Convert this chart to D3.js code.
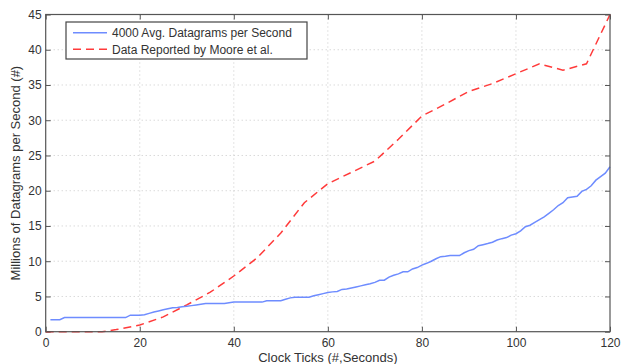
<!DOCTYPE html>
<html>
<head>
<meta charset="utf-8">
<script src="https://cdn.jsdelivr.net/npm/d3@7"></script>
<style>
  body { margin: 0; background: #fff; }
  svg { display: block; font-family: 'Liberation Sans', Arial, sans-serif; }
</style>
</head>
<body>
<svg id="chart" width="621" height="364"></svg>
<script>
// blue series: one sample per clock tick, 1..120
const avgTicks = d3.range(1, 121)
const avgValues = [
  1.7, 1.7, 1.7, 2.0, 2.0, 2.0, 2.0, 2.0, 2.0, 2.0,
  2.0, 2.0, 2.0, 2.0, 2.0, 2.0, 2.0, 2.35, 2.35, 2.35,
  2.4, 2.6, 2.8, 2.95, 3.1, 3.25, 3.4, 3.45, 3.55, 3.6,
  3.7, 3.8, 3.9, 4.0, 4.0, 4.0, 4.0, 4.0, 4.1, 4.2,
  4.2, 4.2, 4.2, 4.2, 4.2, 4.2, 4.4, 4.4, 4.4, 4.4,
  4.6, 4.8, 4.87, 4.87, 4.87, 4.9, 5.1, 5.25, 5.4, 5.55,
  5.65, 5.7, 6.0, 6.05, 6.2, 6.35, 6.5, 6.65, 6.8, 7.0,
  7.3, 7.3, 7.75, 8.0, 8.2, 8.5, 8.5, 8.9, 9.1, 9.45,
  9.7, 10.0, 10.35, 10.65, 10.7, 10.8, 10.8, 10.8, 11.2, 11.5,
  11.7, 12.2, 12.35, 12.5, 12.7, 13.0, 13.2, 13.35, 13.7, 13.9,
  14.3, 14.9, 15.1, 15.5, 15.9, 16.3, 16.8, 17.3, 17.9, 18.3,
  19.0, 19.1, 19.2, 19.9, 20.2, 20.7, 21.5, 22.0, 22.5, 23.4
]

// red dashed series (Moore et al.)
const mooreTicks = [0, 5, 10, 12, 15, 20, 25, 30, 35, 40, 45, 50, 55, 60, 65, 70, 75, 80, 85, 90, 95, 100, 105, 110, 115, 120]
const mooreValues = [0, 0, 0, 0, 0.3, 0.95, 2.1, 3.8, 5.6, 7.9, 10.5, 14, 18.3, 21, 22.6, 24.2, 27.3, 30.6, 32.3, 34.1, 35.2, 36.6, 38, 37.1, 38, 45]

const xTicks = [0, 20, 40, 60, 80, 100, 120]
const yTicks = [0, 5, 10, 15, 20, 25, 30, 35, 40, 45]

const seriesNames = ['4000 Avg. Datagrams per Second', 'Data Reported by Moore et al.']
const seriesColors = ['#6e8cff', '#ff3a3a']

const width = 621, height = 364
const margin = { top: 14.5, right: 11, bottom: 32.3, left: 45.7 }
const innerW = width - margin.left - margin.right
const innerH = height - margin.top - margin.bottom

const svg = d3.select('#chart')
const root = svg.append('g').attr('transform', `translate(${margin.left},${margin.top})`)

const x = d3.scaleLinear().domain([0, 120]).range([0, innerW])
const y = d3.scaleLinear().domain([0, 45]).range([innerH, 0])

// dotted grid
root.append('g')
  .selectAll('line')
  .data(xTicks.slice(1, -1))
  .join('line')
  .attr('x1', d => x(d)).attr('x2', d => x(d))
  .attr('y1', 0).attr('y2', innerH)
  .attr('stroke', '#c8c8c8').attr('stroke-dasharray', '1,3')

root.append('g')
  .selectAll('line')
  .data(yTicks.slice(1, -1))
  .join('line')
  .attr('x1', 0).attr('x2', innerW)
  .attr('y1', d => y(d)).attr('y2', d => y(d))
  .attr('stroke', '#c8c8c8').attr('stroke-dasharray', '1,3')

// axes, ticks pointing inward like matlab
const styleAxis = g => {
  g.select('.domain').remove()
  g.selectAll('line').attr('stroke', '#555')
  g.selectAll('text').attr('fill', '#333').attr('font-size', '12px')
}

root.append('g')
  .attr('transform', `translate(0,${innerH})`)
  .call(d3.axisBottom(x).tickValues(xTicks).tickSize(-5).tickPadding(7))
  .call(styleAxis)

root.append('g')
  .call(d3.axisTop(x).tickValues(xTicks).tickSize(-5).tickFormat(''))
  .call(styleAxis)

root.append('g')
  .call(d3.axisLeft(y).tickValues(yTicks).tickSize(-5).tickPadding(4))
  .call(styleAxis)

root.append('g')
  .attr('transform', `translate(${innerW},0)`)
  .call(d3.axisRight(y).tickValues(yTicks).tickSize(-5).tickFormat(''))
  .call(styleAxis)

// lines
const line = d3.line().x(d => x(d[0])).y(d => y(d[1]))

root.append('path')
  .datum(mooreTicks.map((t, i) => [t, mooreValues[i]]))
  .attr('fill', 'none')
  .attr('stroke', seriesColors[1])
  .attr('stroke-width', 1.5)
  .attr('stroke-dasharray', '8,5')
  .attr('d', line)

root.append('path')
  .datum(avgTicks.map((t, i) => [t, avgValues[i]]))
  .attr('fill', 'none')
  .attr('stroke', seriesColors[0])
  .attr('stroke-width', 1.5)
  .attr('d', line)

// box
root.append('rect')
  .attr('width', innerW).attr('height', innerH)
  .attr('fill', 'none').attr('stroke', '#555').attr('stroke-width', 1.2)

// legend
const legend = svg.append('g').attr('transform', 'translate(66,22)')
legend.append('rect')
  .attr('width', 241).attr('height', 37)
  .attr('fill', '#fff').attr('stroke', '#444').attr('stroke-width', 1.2)

seriesNames.forEach((name, i) => {
  const cy = 10.7 + i * 16.6
  legend.append('line')
    .attr('x1', 7).attr('x2', 41)
    .attr('y1', cy).attr('y2', cy)
    .attr('stroke', seriesColors[i])
    .attr('stroke-width', 1.5)
    .attr('stroke-dasharray', i === 1 ? '8,5' : null)
  legend.append('text')
    .attr('x', 46).attr('y', cy + 4.3)
    .attr('fill', '#333')
    .attr('font-size', '12px')
    .text(name)
})

// axis titles
svg.append('text')
  .attr('x', margin.left + innerW / 2)
  .attr('y', 362)
  .attr('text-anchor', 'middle')
  .attr('fill', '#333')
  .attr('font-size', '13px')
  .text('Clock Ticks (#,Seconds)')

svg.append('text')
  .attr('transform', `translate(20,${margin.top + innerH / 2}) rotate(-90)`)
  .attr('text-anchor', 'middle')
  .attr('fill', '#333')
  .attr('font-size', '13px')
  .text('Millions of Datagrams per Second (#)')
</script>
</body>
</html>
